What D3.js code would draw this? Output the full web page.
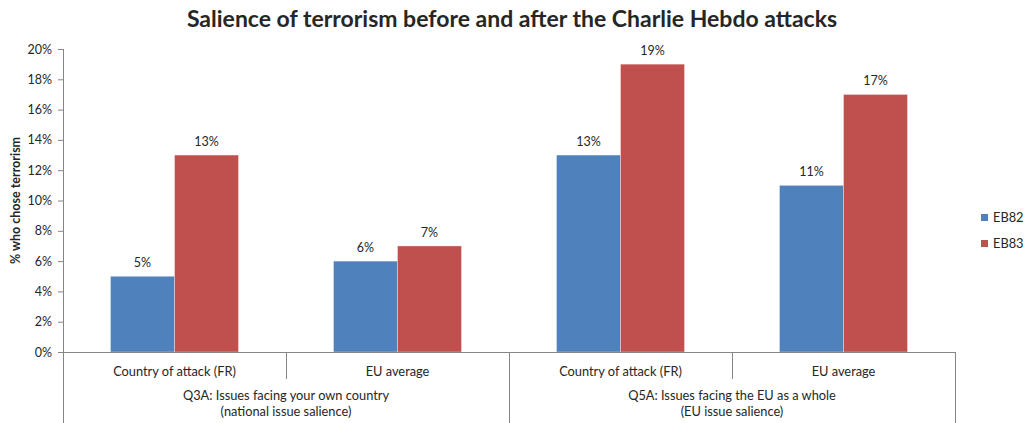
<!DOCTYPE html>
<html><head><meta charset="utf-8">
<script src="https://cdn.jsdelivr.net/npm/d3@7"></script>
<style>body{margin:0;background:#fff}svg{display:block}text{font-family:Lato,"Open Sans",sans-serif;fill:#262626}</style>
</head><body><svg id="c" width="1027" height="423"></svg>
<script>
const categories = ["Country of attack (FR)", "EU average", "Country of attack (FR)", "EU average"];
const groups = ["Q3A: Issues facing your own country|(national issue salience)", "Q5A: Issues facing the EU as a whole|(EU issue salience)"];
const series = ["EB82", "EB83"];
const eb82 = [5, 6, 13, 11];
const eb83 = [13, 7, 19, 17];
const yTicks = [0, 2, 4, 6, 8, 10, 12, 14, 16, 18, 20];
const colors = ["#4F81BD", "#C0504D"];

const svg = d3.select("#c");
const L = 63, R = 955, T = 49, B = 352;
const x = d3.scaleBand().domain(d3.range(categories.length)).range([L, R]).paddingInner(0).paddingOuter(0);
const xs = d3.scaleBand().domain(series).range([0, x.bandwidth()]).paddingInner(0).paddingOuter(0.742);
const y = d3.scaleLinear().domain([0, 20]).range([B, T]);

svg.append("text").attr("x", 512).attr("y", 27).attr("text-anchor", "middle")
  .style("font-size", "23px").style("font-weight", "bold").text("Salience of terrorism before and after the Charlie Hebdo attacks");

// y axis
const ya = svg.append("g").attr("transform", `translate(${L},0)`)
  .call(d3.axisLeft(y).tickValues(yTicks).tickSize(5).tickPadding(6).tickFormat(d => d + "%"));
ya.select(".domain").remove();
ya.selectAll("line").attr("stroke", "#868686");
ya.selectAll("text").style("font-size", "12.5px").style("font-family", "Lato,sans-serif").attr("fill", "#262626");
svg.append("line").attr("x1", L + 0.5).attr("x2", L + 0.5).attr("y1", T).attr("y2", 423).attr("stroke", "#868686");

svg.append("text").attr("transform", `translate(20,${(T + B) / 2}) rotate(-90)`).attr("text-anchor", "middle")
  .style("font-size", "12.5px").style("font-weight", "bold").text("% who chose terrorism");

// bars
const data = categories.map((c, i) => ({i, vals: [eb82[i], eb83[i]]}));
const g = svg.append("g");
data.forEach(d => {
  d.vals.forEach((v, k) => {
    const bx = x(d.i) + xs(series[k]);
    g.append("rect").attr("x", bx).attr("y", y(v)).attr("width", xs.bandwidth()).attr("height", y(0) - y(v))
      .attr("fill", colors[k]).attr("stroke", "rgba(255,255,255,0.5)").attr("stroke-width", 0.7);
    g.append("text").attr("x", bx + xs.bandwidth() / 2).attr("y", y(v) - 9).attr("text-anchor", "middle")
      .style("font-size", "12.5px").text(v + "%");
  });
});

// x axis
svg.append("line").attr("x1", L).attr("x2", R).attr("y1", B + 0.5).attr("y2", B + 0.5).attr("stroke", "#868686");
categories.forEach((c, i) => {
  const xe = x(i) + x.bandwidth();
  const long = (i === categories.length - 1) || (i % 2 === 1);
  svg.append("line").attr("x1", Math.round(xe) + 0.5).attr("x2", Math.round(xe) + 0.5).attr("y1", B).attr("y2", long ? 423 : 379).attr("stroke", "#868686");
  svg.append("text").attr("x", x(i) + x.bandwidth() / 2).attr("y", 376).attr("text-anchor", "middle")
    .style("font-size", "12.8px").text(c);
});
groups.forEach((gname, j) => {
  const cx = x(j * 2) + x.bandwidth();
  gname.split("|").forEach((line, li) => {
    svg.append("text").attr("x", cx).attr("y", 400 + li * 16).attr("text-anchor", "middle")
      .style("font-size", "12.8px").text(line);
  });
});

// legend
series.forEach((s, k) => {
  const ly = 214 + k * 26;
  svg.append("rect").attr("x", 981).attr("y", ly).attr("width", 7).attr("height", 7).attr("fill", colors[k]);
  svg.append("text").attr("x", 993).attr("y", ly + 8).style("font-size", "12.8px").text(s);
});
</script></body></html>
